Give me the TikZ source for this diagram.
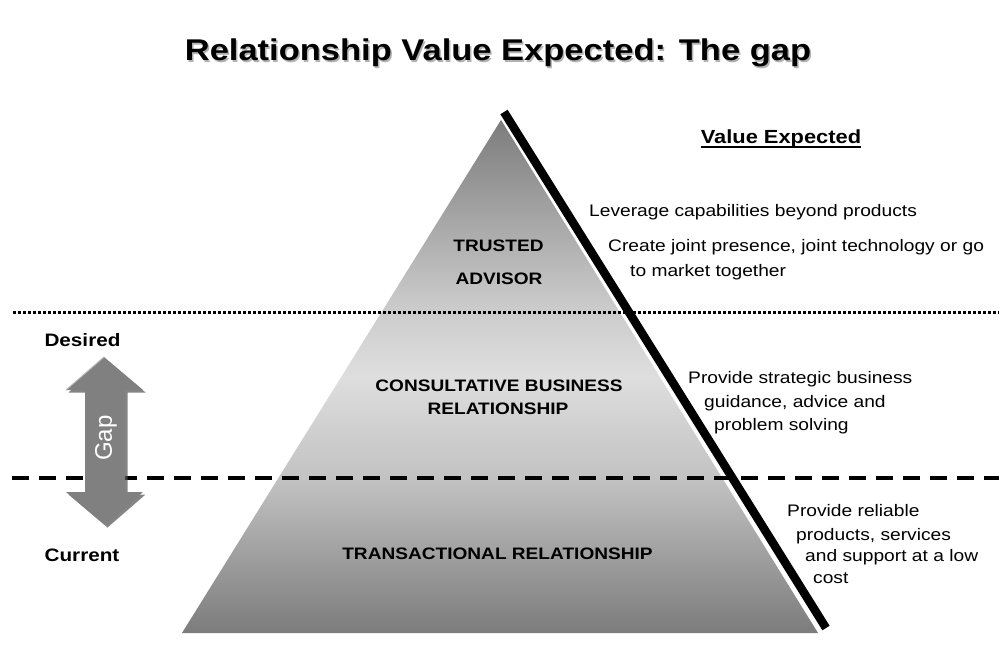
\documentclass[tikz,border=0pt]{standalone}
\usepackage{fontspec}
\setmainfont{Liberation Sans}[FakeStretch=1.15]
\newfontfamily\gapfont{Liberation Sans}
\definecolor{pyrdark}{RGB}{124,124,124}
\definecolor{pyrmidA}{RGB}{194,194,194}
\definecolor{pyrlight}{RGB}{222,222,222}
\definecolor{pyrmidB}{RGB}{202,202,202}
\definecolor{arrowgray}{RGB}{128,128,128}
\definecolor{arrowshadow}{RGB}{80,80,80}
\pgfdeclareverticalshading{pyrshade}{100bp}{color(0bp)=(pyrdark); color(25bp)=(pyrdark); color(40bp)=(pyrmidA); color(50bp)=(pyrlight); color(57bp)=(pyrmidB); color(75bp)=(pyrdark); color(100bp)=(pyrdark)}
\begin{document}
\begin{tikzpicture}[x=1pt,y=-1pt,
  body/.style={font=\fontsize{16.7}{20}\selectfont, anchor=base west, inner sep=0pt},
  lbl/.style={font=\fontsize{16.6}{20}\selectfont\bfseries, anchor=base, inner sep=0pt},
  side/.style={font=\fontsize{18}{20}\selectfont\bfseries, anchor=base, inner sep=0pt},
  dotline/.style={line width=2.7pt, dash pattern=on 2.7pt off 2.3pt},
  dashline/.style={line width=4pt, dash pattern=on 17pt off 10pt},
]
\useasboundingbox[fill=white] (0,0) rectangle (999,660);

% title with shadow
\node[anchor=base, inner sep=0pt, text=gray!60, font=\fontsize{30}{34}\selectfont\bfseries] (titleshadow) at (499.5,62.5) {Relationship Value Expected: The gap};
\node[anchor=base, inner sep=0pt, font=\fontsize{30}{34}\selectfont\bfseries] (title) at (498,61) {Relationship Value Expected: The gap};

% pyramid
\path[shading=pyrshade] (182,633) -- (501,120) -- (818,633) -- cycle;
\draw[line width=8.5pt, line cap=butt] (504,112) -- (826,628);

% level lines
\draw[dotline] (13,312.7) -- (999,312.7);
\draw[dashline] (12,477.5) -- (999,477.5);

% gap arrow
\fill[arrowshadow, opacity=0.7] (106.5,359.5) -- (145.5,392.5) -- (127.5,392.5) -- (127.5,494.5) -- (145.5,494.5) -- (107.5,527.5) -- (68.5,494.5) -- (87.5,494.5) -- (87.5,392.5) -- (68.5,392.5) -- cycle;
\fill[arrowgray] (104,357) -- (143,390) -- (125,390) -- (125,492) -- (143,492) -- (105,525) -- (66,492) -- (85,492) -- (85,390) -- (66,390) -- cycle;
\draw[gray!55, line width=1pt] (66,390) -- (104,357);
\node[rotate=90, text=white, inner sep=0pt, font=\gapfont\fontsize{24}{24}\selectfont] (gap) at (106,438) {Gap};

% side labels
\node[side] (desired) at (82.5,346.7) {Desired};
\node[side] (current) at (82,561.7) {Current};

% pyramid labels
\node[lbl] (trusted) at (498.5,251.7) {TRUSTED};
\node[lbl] (advisor) at (499,285) {ADVISOR};
\node[lbl] (consult1) at (499,391.7) {CONSULTATIVE BUSINESS};
\node[lbl] (consult2) at (498,414) {RELATIONSHIP};
\node[lbl] (trans) at (497.5,559) {TRANSACTIONAL RELATIONSHIP};

% value expected heading
\node[anchor=base, inner sep=0pt, font=\fontsize{19}{22}\selectfont\bfseries] (ve) at (781,143.3) {Value Expected};
\draw[line width=1.6pt] ([yshift=-3.5pt]ve.base west) -- ([yshift=-3.5pt]ve.base east);

% value texts
\node[body] (v1) at (589,217) {Leverage capabilities beyond products};
\node[body] (v2) at (608,251.7) {Create joint presence, joint technology or go};
\node[body] (v3) at (630,276.7) {to market together};
\node[body] (v4) at (688,384) {Provide strategic business};
\node[body] (v5) at (704,407) {guidance, advice and};
\node[body] (v6) at (714,430) {problem solving};
\node[body] (v7) at (787,516.7) {Provide reliable};
\node[body] (v8) at (796,540) {products, services};
\node[body] (v9) at (805,561.7) {and support at a low};
\node[body] (v10) at (813,583) {cost};
\end{tikzpicture}
\end{document}
